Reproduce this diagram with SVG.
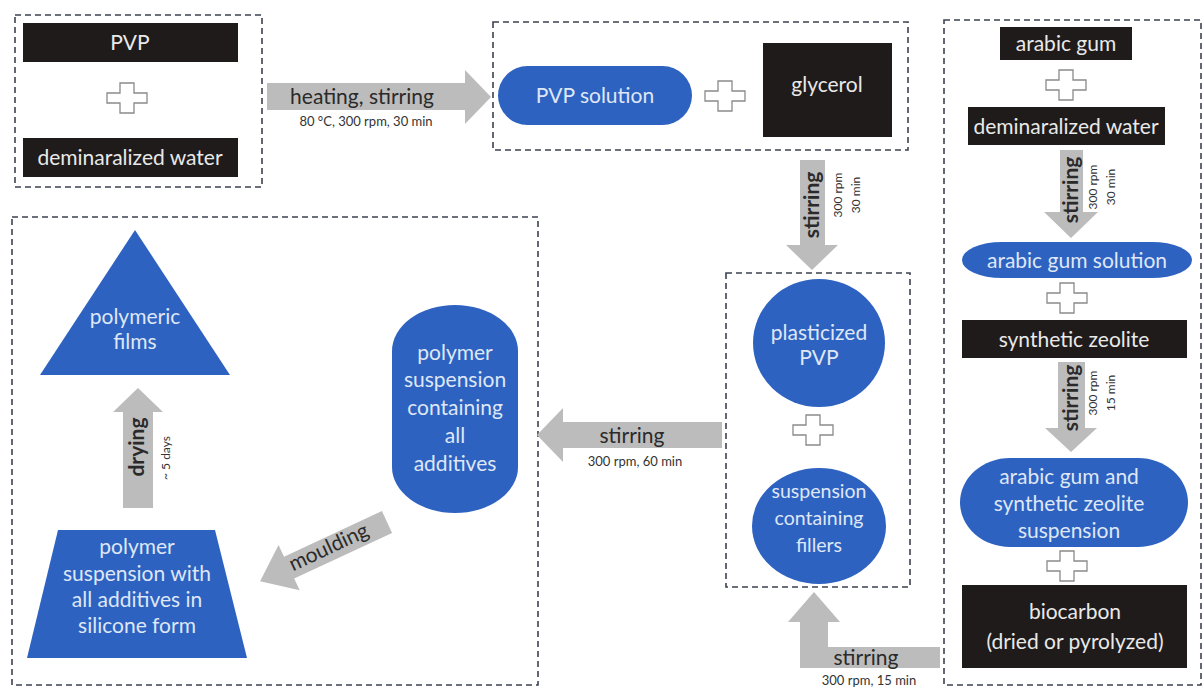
<svg xmlns="http://www.w3.org/2000/svg" width="1203" height="689" viewBox="0 0 1203 689">
<style>
.bg{fill:#ffffff}
.grp{fill:none;stroke:#3c4250;stroke-width:1.6;stroke-dasharray:6 4}
.blk{fill:#1f1b1b}
.blue{fill:#2e62c1}
.arr{fill:#bcbcbc}
.plus{fill:#ffffff;stroke:#8a8a8a;stroke-width:1.3}
.tw{font-family:Lato,"Open Sans","Liberation Sans",sans-serif;font-size:21px;fill:#e9e9e9;text-anchor:middle}
.tb{font-family:Lato,"Open Sans","Liberation Sans",sans-serif;font-size:21px;fill:#dfe7f6;text-anchor:middle}
.ta{font-family:Lato,"Open Sans","Liberation Sans",sans-serif;font-size:21px;fill:#2a2a2a;text-anchor:middle}
.ts{font-family:Lato,"Open Sans","Liberation Sans",sans-serif;font-size:13px;fill:#333333;text-anchor:middle}
.tv{font-family:Lato,"Open Sans","Liberation Sans",sans-serif;font-size:12px;fill:#333333;text-anchor:middle}
</style>
<defs>
<path id="plus" d="M-7,-15 H7 V-5 H20 V5 H7 V15 H-7 V5 H-20 V-5 H-7 Z"/>
</defs>
<rect class="bg" x="0" y="0" width="1203" height="689"/>

<g id="groups">
<rect class="grp" x="15" y="15" width="247" height="172"/>
<rect class="grp" x="493" y="22" width="415" height="128"/>
<rect class="grp" x="944" y="20" width="257" height="665"/>
<rect class="grp" x="726" y="273" width="184" height="314"/>
<rect class="grp" x="12" y="217" width="526" height="468"/>
</g>

<g id="connectors">
<g id="c-heating">
<polygon class="arr" points="267,83 465,83 465,70 491,97 465,124 465,110 267,110"/>
<text class="ta" x="362" y="104">heating, stirring</text>
<text class="ts" x="366" y="126">80 °C, 300 rpm, 30 min</text>
</g>
<g id="c-stir1">
<polygon class="arr" points="800,160 825,160 825,245 838,245 812,270 786,245 800,245"/>
<text class="ta" transform="translate(812,205) rotate(-90)" x="0" y="7" style="font-weight:bold">stirring</text>
<text class="tv" transform="translate(838,195) rotate(-90)" x="0" y="4">300 rpm</text>
<text class="tv" transform="translate(856,195) rotate(-90)" x="0" y="4">30 min</text>
</g>
<g id="c-stir-ag">
<polygon class="arr" points="1060,150 1083,150 1083,212 1098,212 1071,238 1044,212 1060,212"/>
<text class="ta" transform="translate(1071,190) rotate(-90)" x="0" y="7" style="font-weight:bold">stirring</text>
<text class="tv" transform="translate(1093,187) rotate(-90)" x="0" y="4">300 rpm</text>
<text class="tv" transform="translate(1111,187) rotate(-90)" x="0" y="4">30 min</text>
</g>
<g id="c-stir-zeo">
<polygon class="arr" points="1058,362 1085,362 1085,428 1097,428 1071,452 1045,428 1058,428"/>
<text class="ta" transform="translate(1071,398) rotate(-90)" x="0" y="7" style="font-weight:bold">stirring</text>
<text class="tv" transform="translate(1093,393) rotate(-90)" x="0" y="4">300 rpm</text>
<text class="tv" transform="translate(1111,393) rotate(-90)" x="0" y="4">15 min</text>
</g>
<g id="c-stir-fillers">
<polygon class="arr" points="940,647 940,668 800,668 800,622 788,622 814,592 840,622 828,622 828,647"/>
<text class="ta" x="866" y="665">stirring</text>
<text class="ts" x="869" y="685">300 rpm, 15 min</text>
</g>
<g id="c-stir-all">
<polygon class="arr" points="722,422 563,422 563,408 537,435 563,462 563,448 722,448"/>
<text class="ta" x="632" y="443">stirring</text>
<text class="ts" x="635" y="466">300 rpm, 60 min</text>
</g>
<g id="c-moulding">
<polygon class="arr" transform="translate(387,522) rotate(155)" points="0,-12 108,-12 108,-25 140,0 108,25 108,12 0,12"/>
<text class="ta" transform="translate(329,548) rotate(-25)" x="0" y="6">moulding</text>
</g>
<g id="c-drying">
<polygon class="arr" points="123,508 153,508 153,412 163,412 138,388 113,412 123,412"/>
<text class="ta" transform="translate(137,447) rotate(-90)" x="0" y="7" style="font-weight:bold">drying</text>
<text class="tv" transform="translate(166,458) rotate(-90)" x="0" y="4">~ 5 days</text>
</g>
</g>

<g id="n-pvp">
<rect class="blk" x="23" y="23" width="215" height="39"/>
<text class="tw" x="130" y="50">PVP</text>
</g>
<g id="plus1"><use href="#plus" class="plus" transform="translate(127,98)"/></g>
<g id="n-water1">
<rect class="blk" x="23" y="138" width="215" height="39"/>
<text class="tw" x="130" y="165">deminaralized water</text>
</g>

<g id="n-pvpsol">
<rect class="blue" x="498" y="66" width="194" height="59" rx="29.5" ry="29.5"/>
<text class="tb" x="595" y="103">PVP solution</text>
</g>
<g id="plus2"><use href="#plus" class="plus" transform="translate(725,96)"/></g>
<g id="n-glycerol">
<rect class="blk" x="763" y="43" width="129" height="94"/>
<text class="tw" x="827" y="92">glycerol</text>
</g>

<g id="n-arabic">
<rect class="blk" x="1000" y="27" width="132" height="33"/>
<text class="tw" x="1066" y="51">arabic gum</text>
</g>
<g id="plus3"><use href="#plus" class="plus" transform="translate(1066,85)"/></g>
<g id="n-water2">
<rect class="blk" x="968" y="107" width="197" height="38"/>
<text class="tw" x="1066" y="134">deminaralized water</text>
</g>
<g id="n-agsol">
<rect class="blue" x="962" y="242" width="230" height="36" rx="40" ry="18"/>
<text class="tb" x="1077" y="268">arabic gum solution</text>
</g>
<g id="plus4"><use href="#plus" class="plus" transform="translate(1067,298)"/></g>
<g id="n-zeolite">
<rect class="blk" x="962" y="320" width="225" height="38"/>
<text class="tw" x="1074" y="347">synthetic zeolite</text>
</g>
<g id="n-agzeo">
<rect class="blue" x="960" y="458" width="228" height="89" rx="50" ry="44.5"/>
<text class="tb" x="1069" y="484">arabic gum and</text>
<text class="tb" x="1069" y="511">synthetic zeolite</text>
<text class="tb" x="1069" y="538">suspension</text>
</g>
<g id="plus5"><use href="#plus" class="plus" transform="translate(1067,566)"/></g>
<g id="n-biocarbon">
<rect class="blk" x="962" y="585" width="225" height="83"/>
<text class="tw" x="1075" y="619">biocarbon</text>
<text class="tw" x="1075" y="649">(dried or pyrolyzed)</text>
</g>

<g id="n-plasticized">
<ellipse class="blue" cx="819" cy="343" rx="66" ry="64"/>
<text class="tb" x="819" y="340">plasticized</text>
<text class="tb" x="819" y="365">PVP</text>
</g>
<g id="plus6"><use href="#plus" class="plus" transform="translate(813,430)"/></g>
<g id="n-fillers">
<ellipse class="blue" cx="819" cy="526" rx="67" ry="58"/>
<text class="tb" x="819" y="498" style="font-size:19.5px">suspension</text>
<text class="tb" x="819" y="525" style="font-size:19.5px">containing</text>
<text class="tb" x="819" y="552" style="font-size:19.5px">fillers</text>
</g>

<g id="n-allsusp">
<rect class="blue" x="392" y="305" width="126" height="208" rx="63" ry="46"/>
<text class="tb" x="455" y="360">polymer</text>
<text class="tb" x="455" y="387">suspension</text>
<text class="tb" x="455" y="415">containing</text>
<text class="tb" x="455" y="443">all</text>
<text class="tb" x="455" y="471">additives</text>
</g>

<g id="n-mould">
<polygon class="blue" points="58,530 215,530 247,658 27,658"/>
<text class="tb" x="137" y="554">polymer</text>
<text class="tb" x="137" y="581">suspension with</text>
<text class="tb" x="137" y="607">all additives in</text>
<text class="tb" x="137" y="633">silicone form</text>
</g>

<g id="n-films">
<polygon class="blue" points="135,230 230,375 40,375"/>
<text class="tb" x="135" y="324">polymeric</text>
<text class="tb" x="135" y="349">films</text>
</g>
</svg>
